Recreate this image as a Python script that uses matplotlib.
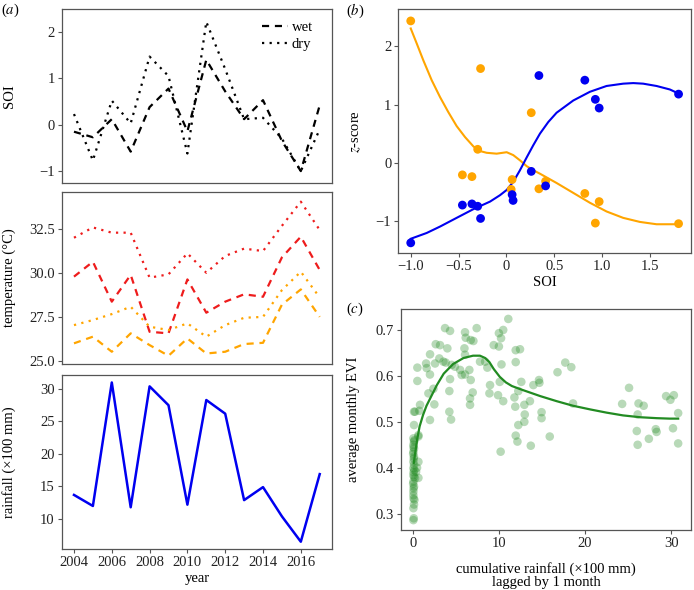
import matplotlib
matplotlib.use("Agg")
import matplotlib.pyplot as plt

plt.rcParams['font.family'] = ['Liberation Serif', 'DejaVu Serif']
plt.rcParams['mathtext.fontset'] = 'stix'

# ---------------- data ----------------
years = [2004, 2005, 2006, 2007, 2008, 2009, 2010, 2011, 2012, 2013, 2014, 2015, 2016, 2017]
soi_wet = [-0.15, -0.27, 0.12, -0.58, 0.38, 0.78, -0.14, 1.40, 0.72, 0.12, 0.53, -0.35, -1.0, 0.42]
soi_dry = [0.23, -0.77, 0.52, 0.03, 1.47, 1.05, -0.62, 2.22, 1.20, 0.12, 0.15, -0.30, -1.0, -0.10]

tmax_dry = [32.02, 32.61, 32.31, 32.31, 29.74, 29.93, 31.13, 30.02, 30.98, 31.40, 31.26, 32.70, 34.08, 32.46]
tmax_wet = [29.80, 30.65, 28.37, 29.90, 26.65, 26.56, 29.64, 27.74, 28.37, 28.79, 28.65, 30.90, 32.08, 30.18]
tmin_dry = [27.03, 27.32, 27.66, 28.08, 26.94, 26.75, 27.13, 26.37, 27.03, 27.45, 27.50, 29.03, 30.08, 28.61]
tmin_wet = [25.99, 26.37, 25.51, 26.56, 25.89, 25.28, 26.27, 25.41, 25.51, 25.95, 26.02, 28.20, 29.07, 27.50]

rainfall = [13.7, 12.0, 31.0, 11.8, 30.4, 27.5, 12.2, 28.3, 26.2, 12.9, 14.9, 10.4, 6.5, 16.9]

b_orange_x = [-1.0, -0.27, 0.26, -0.30, -0.46, -0.36, 0.06, 0.05, 0.34, 0.41, 0.82, 0.97, 0.93, 1.80]
b_orange_y = [2.44, 1.62, 0.86, 0.23, -0.21, -0.24, -0.29, -0.46, -0.45, -0.32, -0.53, -0.67, -1.04, -1.05]
b_blue_x = [-1.0, -0.46, -0.36, -0.30, -0.27, 0.06, 0.07, 0.26, 0.34, 0.41, 0.82, 0.93, 0.97, 1.80]
b_blue_y = [-1.38, -0.73, -0.71, -0.75, -0.96, -0.55, -0.65, -0.15, 1.50, -0.40, 1.42, 1.09, 0.94, 1.18]

b_orange_fit_x = [-1.0, -0.937, -0.868, -0.781, -0.694, -0.607, -0.52, -0.432, -0.345, -0.276, -0.206,
                  -0.102, 0.003, 0.072, 0.142, 0.212, 0.281, 0.351, 0.525, 0.699, 0.873, 1.047, 1.221,
                  1.396, 1.57, 1.80]
b_orange_fit_y = [2.31, 2.05, 1.76, 1.42, 1.13, 0.87, 0.63, 0.44, 0.28, 0.20, 0.17,
                  0.155, 0.18, 0.13, 0.04, -0.06, -0.13, -0.19, -0.35, -0.52, -0.69, -0.84, -0.95,
                  -1.02, -1.06, -1.06]
b_blue_fit_x = [-1.0, -0.833, -0.694, -0.52, -0.345, -0.171, -0.067, 0.003, 0.072, 0.142, 0.212,
                0.281, 0.351, 0.438, 0.525, 0.699, 0.873, 1.047, 1.221, 1.326, 1.43, 1.57, 1.709, 1.80]
b_blue_fit_y = [-1.31, -1.21, -1.10, -0.95, -0.80, -0.67, -0.56, -0.47, -0.33, -0.13, 0.09,
                0.30, 0.50, 0.70, 0.86, 1.07, 1.22, 1.32, 1.36, 1.37, 1.36, 1.32, 1.26, 1.19]

c_rain = [
    # cluster near zero
    0.08, 0.12, 0.08, 0.15, 0.10, 0.08, 0.15, 0.08, 0.27, 0.08, 0.39, 0.08, 0.15, 0.66, 0.08, 0.15,
    0.08, 0.15, 0.66, 0.08, 0.15, 0.08, 0.20, 0.66, 0.15, 0.15, 0.27, 0.08, 0.20, 0.10, 0.12, 0.05,
    0.10, 0.18, 0.05, 0.15, 0.50, 0.10,
    # 0.5 - 10
    3.75, 4.33, 6.07, 6.15, 7.42, 6.73, 7.04, 2.67, 3.17, 4.02, 6.00, 6.07, 2.01, 3.09, 3.56, 3.83,
    2.59, 4.52, 4.90, 5.50, 6.57, 7.81, 8.40, 8.66, 0.54, 1.55, 1.62, 2.00, 5.68, 6.07, 6.73, 4.33,
    8.97, 0.54, 4.25, 2.40, 1.82, 2.51, 6.96, 6.65, 6.65, 8.90, 0.85, 0.77, 4.25, 4.45, 2.00, 0.66,
    9.40,
    # 10 - 19
    11.09, 10.0, 10.5, 10.25, 10.0, 11.95, 12.45, 10.3, 11.95, 10.1, 9.9, 10.5, 12.6, 12.25, 11.8,
    11.9, 12.95, 13.6, 14.0, 14.65, 14.7, 13.0, 12.95, 12.25, 14.95, 14.95, 11.95, 12.15, 13.7, 15.9,
    10.2, 16.8, 17.7, 18.4, 18.6,
    # 24 - 31
    25.1, 24.3, 26.2, 26.8, 26.1, 26.0, 26.1, 27.4, 28.2, 28.3, 29.4, 30.3, 29.9, 30.8, 30.2, 30.8,
]
c_evi = [
    0.286, 0.290, 0.312, 0.320, 0.333, 0.348, 0.359, 0.370, 0.377, 0.384, 0.391, 0.399, 0.406, 0.378,
    0.413, 0.424, 0.435, 0.442, 0.413, 0.450, 0.457, 0.464, 0.460, 0.471, 0.493, 0.522, 0.522, 0.340,
    0.330, 0.390, 0.420, 0.430, 0.445, 0.395, 0.365, 0.380, 0.400, 0.355,
    0.704, 0.698, 0.695, 0.683, 0.704, 0.678, 0.676, 0.669, 0.667, 0.660, 0.660, 0.646, 0.647, 0.638,
    0.631, 0.629, 0.627, 0.624, 0.620, 0.613, 0.613, 0.631, 0.631, 0.618, 0.618, 0.627, 0.617, 0.603,
    0.602, 0.603, 0.591, 0.593, 0.580, 0.589, 0.567, 0.572, 0.562, 0.538, 0.564, 0.551, 0.537, 0.562,
    0.537, 0.524, 0.522, 0.505, 0.504, 0.468, 0.667,
    0.724, 0.693, 0.700, 0.682, 0.664, 0.656, 0.658, 0.625, 0.630, 0.587, 0.558, 0.545, 0.587, 0.567,
    0.553, 0.533, 0.537, 0.545, 0.580, 0.591, 0.585, 0.516, 0.500, 0.493, 0.521, 0.508, 0.470, 0.457,
    0.448, 0.468, 0.435, 0.608, 0.629, 0.619, 0.540,
    0.574, 0.539, 0.540, 0.535, 0.516, 0.480, 0.450, 0.463, 0.484, 0.478, 0.556, 0.558, 0.548, 0.519,
    0.486, 0.453,
]
c_fit_x = [0.12, 0.27, 0.5, 0.8, 1.2, 1.6, 2.0, 2.8, 3.6, 4.7, 5.9, 7.0, 7.8, 8.4, 8.9, 9.4, 10.1,
           10.8, 11.5, 12.5, 14.8, 16.7, 18.6, 20.6, 22.5, 24.4, 26.4, 28.3, 29.8, 30.8]
c_fit_y = [0.41, 0.43, 0.46, 0.49, 0.515, 0.535, 0.55, 0.58, 0.605, 0.626, 0.639, 0.644, 0.644,
           0.639, 0.630, 0.615, 0.598, 0.586, 0.578, 0.571, 0.556, 0.545, 0.535, 0.527, 0.520, 0.514,
           0.510, 0.508, 0.507, 0.507]

# ---------------- styling helpers ----------------
W, H = 694, 590
TICK_FS = 10.5
LAB_FS = 10.5
SPINE_C = '#555555'
TICK_LAB_C = '#222222'
RED = '#EE1C1C'
ORANGE = '#FFA500'
BLUE = '#0000F0'
GREEN = '#228B22'
DASH = (0, (3.2, 2.6))
DOT = (0, (1.0, 2.4))


def axes_px(fig, left, top, right, bottom):
    return fig.add_axes([left / W, 1 - bottom / H, (right - left) / W, (bottom - top) / H])


def style(ax):
    for s in ax.spines.values():
        s.set_color(SPINE_C)
        s.set_linewidth(0.9)
    ax.tick_params(direction='out', length=3, width=0.8, color=SPINE_C,
                   labelsize=TICK_FS, labelcolor=TICK_LAB_C, pad=2)


fig = plt.figure(figsize=(W / 100, H / 100), dpi=100)

# ---------- (a) top: SOI ----------
ax1 = axes_px(fig, 61.7, 9.3, 332, 182.7)
style(ax1)
ax1.plot(years, soi_wet, color='black', lw=1.6, linestyle=DASH, label='wet')
ax1.plot(years, soi_dry, color='black', lw=1.6, linestyle=DOT, label='dry')
ax1.set_xlim(2003.35, 2017.65)
ax1.set_ylim(-1.25, 2.49)
ax1.set_yticks([-1, 0, 1, 2])
ax1.set_yticklabels(['\u22121', '0', '1', '2'])
ax1.tick_params(axis='x', bottom=False, labelbottom=False)
ax1.set_ylabel('SOI', fontsize=LAB_FS)
ax1.yaxis.set_label_coords(-0.169, 0.5)
ax1.legend(loc='upper left', bbox_to_anchor=(0.741, 0.935), frameon=False, fontsize=TICK_FS,
           handlelength=1.75, handletextpad=0.3, labelspacing=0.25, borderpad=0, borderaxespad=0)

# ---------- (a) middle: temperature ----------
ax2 = axes_px(fig, 61.7, 191.7, 332, 364)
style(ax2)
ax2.plot(years, tmax_dry, color=RED, lw=1.6, linestyle=DOT)
ax2.plot(years, tmax_wet, color=RED, lw=1.6, linestyle=DASH)
ax2.plot(years, tmin_dry, color=ORANGE, lw=1.6, linestyle=DOT)
ax2.plot(years, tmin_wet, color=ORANGE, lw=1.6, linestyle=DASH)
ax2.set_xlim(2003.35, 2017.65)
ax2.set_ylim(24.81, 34.65)
ax2.set_yticks([25.0, 27.5, 30.0, 32.5])
ax2.set_yticklabels(['25.0', '27.5', '30.0', '32.5'])
ax2.tick_params(axis='x', bottom=False, labelbottom=False)
ax2.set_ylabel('temperature (\u00b0C)', fontsize=LAB_FS)
ax2.yaxis.set_label_coords(-0.169, 0.5)

# ---------- (a) bottom: rainfall ----------
ax3 = axes_px(fig, 61.7, 375, 332, 549)
style(ax3)
ax3.plot(years, rainfall, color=BLUE, lw=1.8)
ax3.set_xlim(2003.35, 2017.65)
ax3.set_ylim(5.38, 32.15)
ax3.set_yticks([10, 15, 20, 25, 30])
ax3.set_xticks([2004, 2006, 2008, 2010, 2012, 2014, 2016])
ax3.set_xticklabels(['2004', '2006', '2008', '2010', '2012', '2014', '2016'])
ax3.set_ylabel('rainfall (\u00d7100 mm)', fontsize=LAB_FS)
ax3.yaxis.set_label_coords(-0.169, 0.5)
ax3.set_xlabel('year', fontsize=LAB_FS)
ax3.xaxis.set_label_coords(0.5, -0.13)

# ---------- (b) ----------
axb = axes_px(fig, 398.3, 9.3, 691, 253.3)
style(axb)
axb.plot(b_orange_fit_x, b_orange_fit_y, color=ORANGE, lw=1.5, zorder=2)
axb.plot(b_blue_fit_x, b_blue_fit_y, color=BLUE, lw=1.5, zorder=2)
axb.scatter(b_orange_x, b_orange_y, s=40, color=ORANGE, edgecolors='none', zorder=3)
axb.scatter(b_blue_x, b_blue_y, s=40, color=BLUE, edgecolors='none', zorder=3)
axb.set_xlim(-1.13, 1.93)
axb.set_ylim(-1.56, 2.64)
axb.set_xticks([-1.0, -0.5, 0, 0.5, 1.0, 1.5])
axb.set_xticklabels(['\u22121.0', '\u22120.5', '0', '0.5', '1.0', '1.5'])
axb.set_yticks([-1, 0, 1, 2])
axb.set_yticklabels(['\u22121', '0', '1', '2'])
axb.set_xlabel('SOI', fontsize=LAB_FS)
axb.xaxis.set_label_coords(0.5, -0.095)
axb.set_ylabel(r'$z$-score', fontsize=LAB_FS)
axb.yaxis.set_label_coords(-0.121, 0.5)

# ---------- (c) ----------
axc = axes_px(fig, 401, 309.3, 691, 530)
style(axc)
axc.scatter(c_rain, c_evi, s=38, color=GREEN, alpha=0.32, edgecolors='none', zorder=2)
axc.plot(c_fit_x, c_fit_y, color=GREEN, lw=1.6, zorder=3)
axc.set_xlim(-1.36, 32.29)
axc.set_ylim(0.2645, 0.745)
axc.set_xticks([0, 10, 20, 30])
axc.set_yticks([0.3, 0.4, 0.5, 0.6, 0.7])
axc.set_yticklabels(['0.3', '0.4', '0.5', '0.6', '0.7'])
axc.set_xlabel('cumulative rainfall (\u00d7100 mm)\nlagged by 1 month', fontsize=LAB_FS,
               linespacing=1.05)
axc.xaxis.set_label_coords(0.5, -0.145)
axc.set_ylabel('average monthly EVI', fontsize=LAB_FS)
axc.yaxis.set_label_coords(-0.141, 0.5)

# ---------- panel labels ----------
fig.text(1 / W, 1 - 2 / H, r'($a$)', fontsize=10.5, va='top', ha='left')
fig.text(346 / W, 1 - 2 / H, r'($b$)', fontsize=10.5, va='top', ha='left')
fig.text(346 / W, 1 - 301 / H, r'($c$)', fontsize=10.5, va='top', ha='left')

fig.savefig('out.png', dpi=100)
